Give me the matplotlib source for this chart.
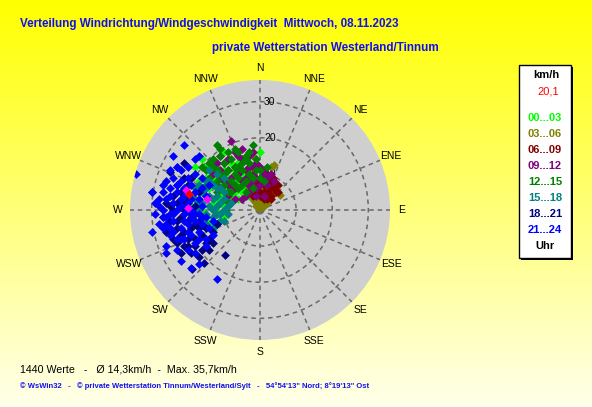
import matplotlib
matplotlib.use("Agg")
import matplotlib.pyplot as plt
import matplotlib.transforms as mtransforms
import numpy as np
from matplotlib.patches import Rectangle

plt.rcParams["font.family"] = ["Liberation Sans", "DejaVu Sans"]

W, H = 592, 407

# Punkte als (Ost, Nord) in km/h
h00_03 = [(0,16), (-10,16), (-19,9), (-15,-3), (-14,-4), (-10,-2), (-9,2), (-16,14), (-12,12), (-8,9),
          (-6,8), (-4,6), (-11,4), (-13,2), (-7,5), (-5,10), (-14,6), (-17,8), (-3,12), (-8,13),
          (-2,7), (-6,3), (-12,-1), (-16,0), (-11,8), (-9,6), (-13,9), (-7,11), (-18,12), (-5,5),
          (-12.5,7), (-14,3.7), (-11.6,-0.5), (-8.8,5.6), (-7.4,2.5), (-19,1), (-17,-5), (-13,-5.5),
          (-10,11), (-6,13), (-4,9), (-9,9), (-15,9), (-10,1), (-8,4), (-3,4), (-12,3), (-15,12)]
h03_06 = [(3,12), (4,12.5), (-1.4,14.4), (5.6,4.2), (0,1), (0,2), (-1,2), (1,2), (-1,3), (0,3),
          (1,3), (-2,4), (-1,4), (0,4), (1,4), (2,4), (-2,5), (-1,5), (0,5), (1,5), (2,6), (3,5),
          (-2,7), (-1,7), (1,7), (3,7), (0,6), (-3,6), (2,8), (-1,8), (0,0.5), (1,9), (-3,8),
          (4,6), (-3.2,11.1), (-0.5,0.8), (0.5,1.5), (-2,3),
          (-2,6), (2,2), (-1,1), (1,1), (0,7), (1,6), (-3,5), (3,4), (2,7), (-2,9), (4,5)]
h06_09 = [(3.5,9), (4,6), (3,4), (1,5), (-1,6), (2,8), (0,9), (4,8), (2,5), (3,6), (1,3), (-2,4),
          (-1,8), (0,5), (2,3), (-3,7), (4.5,5), (1,7), (5,7), (2,10), (3,3), (5,5), (0,4),
          (-1,5), (3,8)]
h09_12 = [(-8,19), (-11,15), (-1,13), (1,10), (3,10), (-5,14), (-3,12), (-7,12), (-9,11), (-11,11),
          (-13,10), (-6,10), (-4,9), (-2,8), (0,7), (2,7), (-10,8), (-8,7), (-6,6), (-3,5), (-1,4),
          (1,4), (-12,7), (-9,4), (-5,3), (-7,3), (-4,11), (-2,12), (-10,13), (-6,15), (0,12),
          (-8,9), (-3,7), (-12,13), (-1,9), (-2,16), (4,8),
          (-9,14), (-7,16), (-5,17), (-3,15), (-1,12), (1,11), (-2,10), (-5,8), (-7,6), (-9,7),
          (-11,9), (-4,4), (2,9), (-1,6)]
h12_15 = [(-12,18), (-2,18), (-6,16), (-4,15), (2,12), (-8,14), (-10,13), (-13,12), (-11,10), (-9,11),
          (-7,12), (-5,11), (-3,10), (-1,11), (-14,9), (-12,8), (-10,7), (-8,8), (-6,9), (-4,8),
          (-2,9), (-13,14), (-9,16), (-7,10), (-5,13), (-11,15), (-3,13), (-15,11), (-6,6), (-9,5),
          (-12,5), (-4,5), (-7,7), (0,9), (-15,7), (-9.3,0), (-8.8,2.3), (-16,12), (-1,14), (1,8),
          (-11,17), (-7,17), (-3,16), (-5,7), (-8,5), (-2,6), (-10,10), (-12,11), (-14,13),
          (-6,12), (-4,14), (0,11)]
h15_18 = [(-17,7), (-15,8), (-13,7), (-11,6), (-16,5), (-14,4), (-12,4), (-10,3), (-16,2), (-14,1),
          (-12,1), (-10,0), (-9,1), (-15,-1), (-13,-2), (-11,-3), (-10,-3), (-17,0), (-15,-4),
          (-13,-5), (-12,10), (-10,9), (-14,11), (-18,3), (-8,2), (-16,-2), (-19,4), (-15,-5),
          (-16,-3), (-12,-1), (-11,2), (-14,8), (-12,6), (-13,0), (-11,-1), (-9,-1), (-17,2),
          (-15,6), (-13,3), (-10,5), (-18,6)]
h18_21 = [(-30,5), (-25,10.5), (-21,13), (-24,-8), (-23,-9), (-21,-10), (-20,-10), (-16,-11), (-17,-13),
          (-15.5,-14.6), (-18.7,-16.2), (-9.7,-12.5), (-26,2), (-24,0), (-22,-2), (-20,-3), (-23,-5),
          (-21,-6), (-19,-5), (-18,-8), (-24,4), (-22,5), (-20,3), (-18,1), (-21,0), (-25,-3),
          (-19,-1), (-17,-3), (-16,-7), (-14,-8), (-15,-5), (-13,-6), (-20,7), (-23,2), (-27,-2),
          (-26,-6), (-18,-10), (-22,-12), (-17,5), (-19,9), (-13,-9), (-12,-4),
          (-23,7), (-21,9), (-25,1), (-22,-7), (-20,-8), (-17,-5), (-19,-12), (-15,-9), (-23,-3),
          (-21,2), (-18,-4), (-14,-11)]
h21_24 = [(-34.3,10), (-21,18), (-25,11), (-23,12), (-17,15), (-30,5), (-30,-6), (-26,-10), (-26,-12),
          (-22,-14), (-18,-12), (-17,-15), (-12,-19), (-19,-16), (-28,1), (-27,-2), (-29,-1), (-15,-8),
          (-15,-10), (-21,-8), (-26,8), (-24,9), (-22,8), (-20,9), (-19,7), (-27,5), (-25,6), (-23,5),
          (-21,6), (-18,5), (-26,3), (-24,2), (-22,3), (-20,2), (-17,3), (-27,0), (-25,-1), (-23,0),
          (-21,-1), (-19,0), (-17,-1), (-26,-4), (-24,-3), (-22,-5), (-20,-4), (-18,-3), (-16,-4),
          (-25,-7), (-23,-8), (-19,-7), (-17,-6), (-14,-5), (-16,1), (-15,4), (-14,7), (-18,10),
          (-22,11), (-16,9), (-15,-2), (-13,-3), (-28,3), (-28,-4), (-20,12), (-24,-6), (-20,-6),
          (-18,-9), (-24,15), (-23,12), (-18,14),
          (-27,7), (-25,4), (-23,7), (-21,4), (-19,3), (-26,-2), (-24,-1), (-22,1), (-20,0),
          (-18,-1), (-16,-2), (-25,-5), (-21,-3), (-19,-2), (-17,-8), (-22,-8), (-20,-11),
          (-29,2), (-27,-5), (-16,6), (-13,-7), (-23,-11)]
magenta_pts = [(-20.4,5.6), (-19.9,0.5), (-14.6,3.0)]
aktuell = [(-19.6,4.3)]

gruppen = [h00_03, h03_06, h06_09, h09_12, h12_15, h15_18, h18_21, h21_24]
labels = ["00...03", "03...06", "06...09", "09...12", "12...15", "15...18", "18...21", "21...24"]
farben = ["#00FF00", "#808000", "#800000", "#800080", "#008000", "#008080", "#000080", "#0000FF"]

richtungen = ["N", "NNE", "NE", "ENE", "E", "ESE", "SE", "SSE",
              "S", "SSW", "SW", "WSW", "W", "WNW", "NW", "NNW"]
ringe = [10, 20, 30]
rmax = 36


def px(x, y):
    return x / W, 1 - y / H


def polar(pts):
    a = np.array(pts, dtype=float)
    th = np.arctan2(a[:, 0], a[:, 1])
    r = np.hypot(a[:, 0], a[:, 1])
    return th, r


fig = plt.figure(figsize=(W / 100, H / 100), dpi=100)

# Hintergrund-Verlauf gelb -> hell
bg = fig.add_axes([0, 0, 1, 1], zorder=-10)
grad = np.linspace(0, 1, 256)
img = np.zeros((256, 1, 3))
img[:, 0, 0] = 1
img[:, 0, 1] = 1
img[:, 0, 2] = 0.92 * grad
bg.imshow(img, aspect="auto", extent=[0, 1, 0, 1], origin="upper")
bg.axis("off")

# Polarplot
ax = fig.add_axes([130 / W, 1 - 340 / H, 260 / W, 260 / H], projection="polar")
ax.set_theta_zero_location("N")
ax.set_theta_direction(-1)
ax.set_facecolor("#CFCFCF")
ax.set_ylim(0, rmax)
ax.spines["polar"].set_visible(False)
winkel = np.arange(0, 360, 22.5)
ax.set_thetagrids(winkel, [""] * len(winkel))
ax.set_rgrids(ringe, [""] * len(ringe))
ax.set_axisbelow(True)
ax.xaxis.grid(True, color="#686868", linestyle=(0, (3, 2.5)), linewidth=1.1)
ax.yaxis.grid(True, color="#686868", linestyle=(0, (3, 2.5)), linewidth=1.1)

for w, name in zip(winkel, richtungen):
    ax.text(np.deg2rad(w), rmax * 142 / 130, name, fontsize=7.5, ha="center", va="center",
            clip_on=False)

versatz = mtransforms.offset_copy(ax.transData, fig=fig, x=4, y=0, units="dots")
for v in ringe:
    ax.text(0, v, str(v), fontsize=7.5, ha="left", va="center", transform=versatz, zorder=2)

for pts, c in zip(gruppen, farben):
    th, r = polar(pts)
    ax.scatter(th, r, marker="D", s=20, color=c, linewidths=0, zorder=3)
th, r = polar(magenta_pts)
ax.scatter(th, r, marker="D", s=20, color="#FF00FF", linewidths=0, zorder=4)
th, r = polar(aktuell)
ax.scatter(th, r, marker="D", s=22, color="#FF0000", linewidths=0, zorder=5)

# Titel
blau = "#1010F0"
fig.text(*px(20, 24), "Verteilung Windrichtung/Windgeschwindigkeit  Mittwoch, 08.11.2023",
         color=blau, fontsize=8.4, fontweight="bold", va="center", ha="left")
fig.text(*px(439, 48), "private Wetterstation Westerland/Tinnum",
         color=blau, fontsize=8.4, fontweight="bold", va="center", ha="right")

# Legende
fig.patches.append(Rectangle(px(521, 260), 52 / W, 193 / H, transform=fig.transFigure,
                             facecolor="black", edgecolor="none", zorder=1))
fig.patches.append(Rectangle(px(519, 258), 52 / W, 193 / H, transform=fig.transFigure,
                             facecolor="white", edgecolor="black", linewidth=1, zorder=2))
fig.text(*px(546, 75), "km/h", fontsize=8, fontweight="bold", ha="center", va="center", zorder=3)
fig.text(*px(559, 92), "20,1", fontsize=8, color="#FF0000", ha="right", va="center", zorder=3)
for i, (lab, c) in enumerate(zip(labels, farben)):
    fig.text(*px(545, 118 + i * 16), lab, fontsize=8, fontweight="bold", color=c,
             ha="center", va="center", zorder=3)
fig.text(*px(545, 246), "Uhr", fontsize=8, fontweight="bold", ha="center", va="center", zorder=3)

# Fußzeilen
fig.text(*px(20, 369), "1440 Werte   -   Ø 14,3km/h  -  Max. 35,7km/h",
         fontsize=7.7, ha="left", va="center")
fig.text(*px(20, 386), "© WsWin32   -   © private Wetterstation Tinnum/Westerland/Sylt   -   "
         "54°54'13\" Nord; 8°19'13\" Ost", fontsize=5.5, fontweight="bold", color=blau,
         ha="left", va="center")

fig.savefig("out.png", dpi=100)
